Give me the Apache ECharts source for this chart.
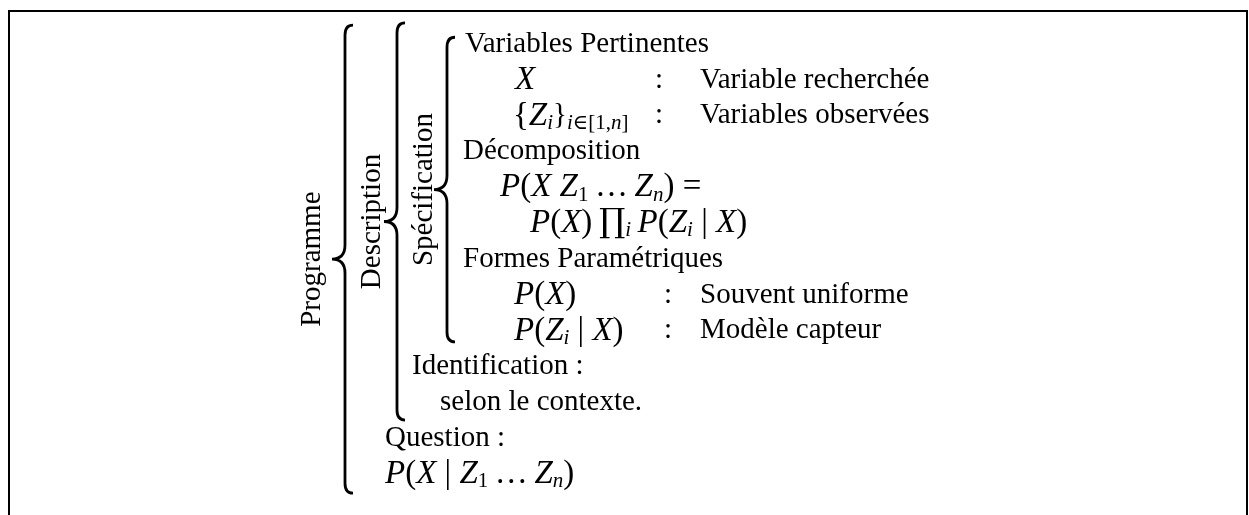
<!DOCTYPE html>
<html>
<head>
<meta charset="utf-8">
<title>Programme bayésien</title>
<script src="https://cdn.jsdelivr.net/npm/echarts@6/dist/echarts.min.js"></script>
<style>
  html, body { margin: 0; padding: 0; background: #fff; }
  #main { width: 1249px; height: 515px; }
</style>
</head>
<body>
<div id="main"></div>
<script>
  // lines of the outline, top to bottom (the index is the row)
  const lineText = [
    'Variables Pertinentes',
    '{it|X}',
    '{m|{}{it|Z}{sub|i}}{sub2|i}{sub2r|\u2208[1,}{sub2|n}{sub2r|]}',
    'Décomposition',
    '{it|P}{m|(}{it|X}{m| }{it|Z}{subr|1}{m|\u2009\u2026\u2009}{it|Z}{sub|n}{m|) =}',
    '{it|P}{m|(}{it|X}{m|)\u2009}{prod|\u220F}{sub|i}{m|\u2009}{it|P}{m|(}{it|Z}{sub|i}{m| | }{it|X}{m|)}',
    'Formes Paramétriques',
    '{it|P}{m|(}{it|X}{m|)}',
    '{it|P}{m|(}{it|Z}{sub|i}{m| | }{it|X}{m|)}',
    'Identification :',
    'selon le contexte.',
    'Question :',
    '{it|P}{m|(}{it|X}{m| | }{it|Z}{subr|1}{m|\u2009\u2026\u2009}{it|Z}{sub|n}{m|)}'
  ];
  const lineIndent = [465, 515, 513, 463, 500, 530, 463, 514, 514, 412, 440, 385, 385];

  // the "name : meaning" tables
  const tableRows = [1, 2, 7, 8];
  const tableColon = [659, 659, 668, 668];
  const tableMeaning = ['Variable recherchée', 'Variables observées', 'Souvent uniforme', 'Modèle capteur'];
  const meaningX = 700;

  // braces (rows are in line units)
  const braceLabel = ['Programme', 'Description', 'Spécification'];
  const braceX = [345, 397, 447];
  const braceTop = [-0.70, -0.76, -0.36];
  const braceBottom = [12.36, 10.32, 8.14];
  const labelX = [312, 372, 424];

  const SERIF = "'Liberation Serif', 'DejaVu Serif', serif";
  const FS = 29;
  const MS = 33; // math is set a little larger
  const baseShift = 6; // baseline sits below the text middle

  const rich = {
    it: {fontStyle: 'italic', fontSize: MS, fontFamily: SERIF, lineHeight: 36},
    m: {fontSize: MS, fontFamily: SERIF, lineHeight: 36},
    sub: {fontStyle: 'italic', fontSize: 21, fontFamily: SERIF, lineHeight: 20, verticalAlign: 'bottom'},
    subr: {fontSize: 21, fontFamily: SERIF, lineHeight: 20, verticalAlign: 'bottom'},
    sub2: {fontStyle: 'italic', fontSize: 21, fontFamily: SERIF, lineHeight: 14, verticalAlign: 'bottom'},
    sub2r: {fontSize: 21, fontFamily: SERIF, lineHeight: 14, verticalAlign: 'bottom'},
    prod: {fontSize: 33, fontFamily: "'DejaVu Serif', serif", lineHeight: 36}
  };

  function textStyle(text, align) {
    return {
      text: text,
      fill: '#000',
      fontSize: FS,
      fontFamily: SERIF,
      lineHeight: 36,
      align: align || 'left',
      verticalAlign: 'middle',
      rich: rich
    };
  }

  let chart = echarts.init(document.getElementById('main'));
  let option = {
    animation: false,
    grid: {left: 0, right: 0, top: 0, bottom: 0},
    xAxis: {type: 'value', min: 0, max: 1249, show: false},
    yAxis: {type: 'value', min: -1.4, max: 12.97, inverse: true, show: false},
    graphic: [{
      type: 'rect',
      shape: {x: 9, y: 11, width: 1238, height: 540},
      style: {fill: 'none', stroke: '#000', lineWidth: 2},
      z: -1
    }],
    series: [
      {
        type: 'custom',
        name: 'lignes',
        data: lineIndent.map((x, i) => [x, i]),
        renderItem: function (params, api) {
          let p = api.coord([api.value(0), api.value(1)]);
          return {
            type: 'text',
            x: p[0],
            y: p[1] - baseShift,
            style: textStyle(lineText[params.dataIndex])
          };
        }
      },
      {
        type: 'custom',
        name: 'tables',
        data: tableRows.map((r, i) => [tableColon[i], r]),
        renderItem: function (params, api) {
          let c = api.coord([api.value(0), api.value(1)]);
          let m = api.coord([meaningX, api.value(1)]);
          return {
            type: 'group',
            children: [
              {type: 'text', x: c[0], y: c[1] - baseShift, style: textStyle(':', 'center')},
              {type: 'text', x: m[0], y: m[1] - baseShift, style: textStyle(tableMeaning[params.dataIndex])}
            ]
          };
        }
      },
      {
        type: 'custom',
        name: 'accolades',
        data: braceX.map((x, i) => [x, braceTop[i], braceBottom[i], labelX[i]]),
        renderItem: function (params, api) {
          let top = api.coord([api.value(0), api.value(1)]);
          let bot = api.coord([api.value(0), api.value(2)]);
          let x = top[0], y0 = top[1], y1 = bot[1], ym = (y0 + y1) / 2;
          let h = 8, r = 10, d = 13, rc = 14;
          let path = 'M' + (x + h) + ' ' + y0 +
            ' Q' + x + ' ' + y0 + ' ' + x + ' ' + (y0 + r) +
            ' L' + x + ' ' + (ym - rc) +
            ' Q' + x + ' ' + ym + ' ' + (x - d) + ' ' + ym +
            ' Q' + x + ' ' + ym + ' ' + x + ' ' + (ym + rc) +
            ' L' + x + ' ' + (y1 - r) +
            ' Q' + x + ' ' + y1 + ' ' + (x + h) + ' ' + y1;
          let lab = api.coord([api.value(3), 0]);
          return {
            type: 'group',
            children: [
              {
                type: 'path',
                shape: {pathData: path},
                style: {fill: null, stroke: '#000', lineWidth: 2.8}
              },
              {
                type: 'text',
                x: lab[0],
                y: ym,
                rotation: Math.PI / 2,
                style: textStyle(braceLabel[params.dataIndex], 'center')
              }
            ]
          };
        }
      }
    ]
  };
  chart.setOption(option);
</script>
</body>
</html>
